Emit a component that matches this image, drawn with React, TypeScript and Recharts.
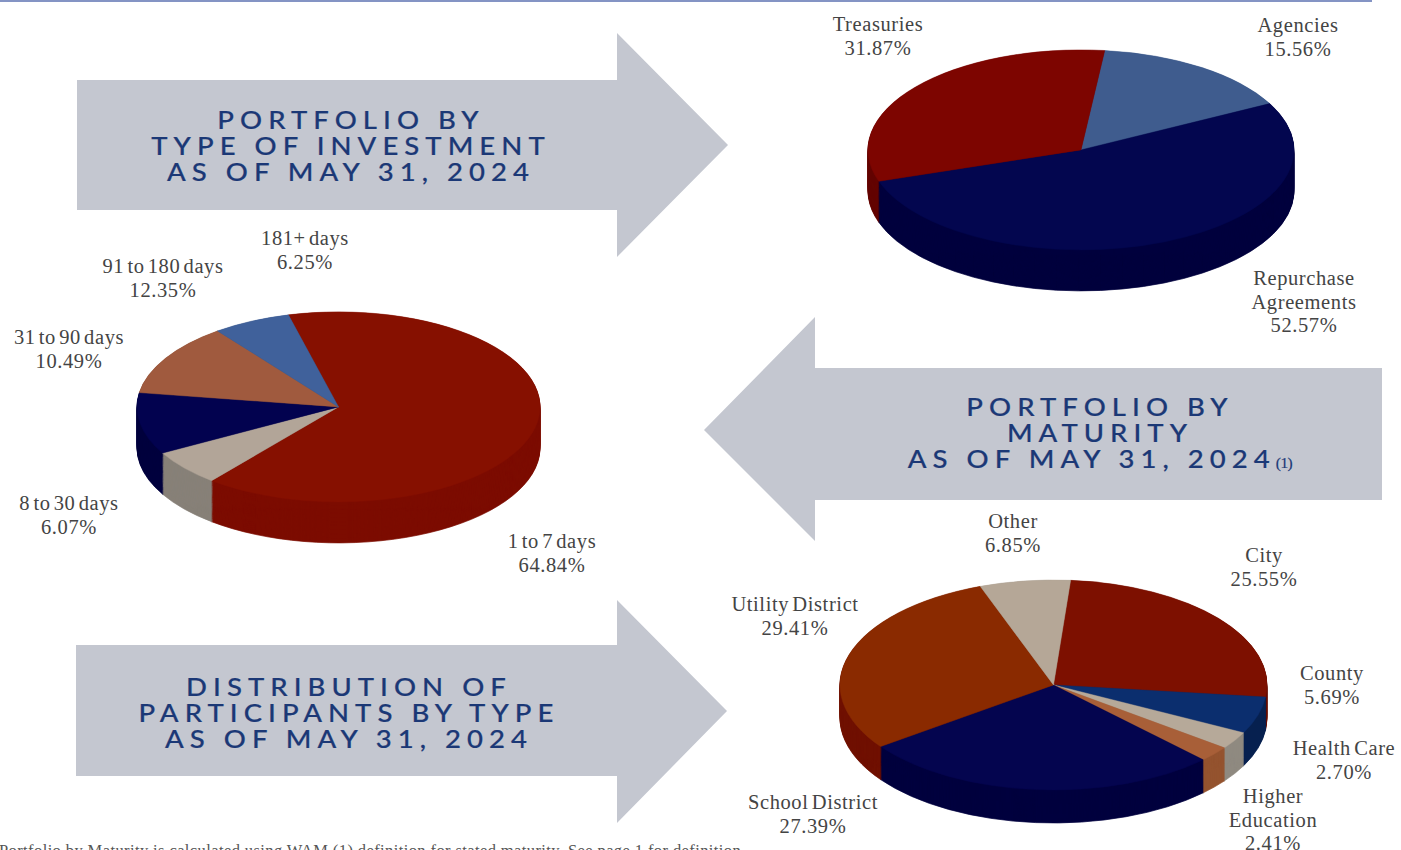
import { PieChart, Pie, Cell } from 'recharts';

// Portfolio by type of investment
const typeNames = ['Agencies', 'Repurchase Agreements', 'Treasuries'];
const typeValues = [15.56, 52.57, 31.87];
const typeTop = ['#3f5c8e', '#03064f', '#7d0500'];
const typeSide = ['#2c4270', '#00003e', '#640400'];

// Portfolio by maturity
const maturityNames = ['1 to 7 days', '8 to 30 days', '31 to 90 days', '91 to 180 days', '181+ days'];
const maturityValues = [64.84, 6.07, 10.49, 12.35, 6.25];
const maturityTop = ['#861000', '#b2a598', '#02024f', '#a05a3e', '#40619b'];
const maturitySide = ['#7c0c00', '#878078', '#00003e', '#7d4530', '#2c4270'];

// Distribution of participants by type
const participantNames = ['City', 'County', 'Health Care', 'Higher Education', 'School District', 'Utility District', 'Other'];
const participantValues = [25.55, 5.69, 2.7, 2.41, 27.39, 29.41, 6.85];
const participantTop = ['#7d1000', '#0b2e6e', '#b6a999', '#a85f38', '#04054f', '#8a2a00', '#b5a797'];
const participantSide = ['#640c00', '#072050', '#8f8a80', '#94532f', '#00003e', '#701000', '#8f8a80'];

const serif = "'Liberation Serif', serif";
const titleFont = "Lato, 'Open Sans', sans-serif";
const arrowFill = '#c4c7d0';
const titleColor = '#1b3876';

interface Pie3DProps {
  names: string[];
  values: number[];
  top: string[];
  side: string[];
  cx: number;
  cy: number;
  rx: number;
  ry: number;
  depth: number;
  start: number;
}

function Pie3D({ names, values, top, side, cx, cy, rx, ry, depth, start }: Pie3DProps) {
  const rows = names.map((name, i) => ({ name, value: values[i] }));
  const k = ry / rx;
  const pad = 4;
  const c = rx + pad;
  const wall = depth / k;
  const offsets: number[] = [];
  for (let o = wall; o > 0; o -= 2) offsets.push(o);

  return (
    <div
      style={{
        position: 'absolute',
        left: cx - c,
        top: cy - c * k,
        transformOrigin: '0 0',
        transform: `scaleY(${k})`,
      }}
    >
      <PieChart width={c * 2} height={c * 2 + wall} margin={{ top: 0, right: 0, bottom: 0, left: 0 }}>
        {offsets.map((o) => (
          <Pie
            key={o}
            data={rows}
            dataKey="value"
            nameKey="name"
            cx={c}
            cy={c + o}
            outerRadius={rx}
            startAngle={start}
            endAngle={start - 360}
            isAnimationActive={false}
            stroke="none"
          >
            {rows.map((r, i) => (
              <Cell key={r.name} fill={side[i]} stroke={side[i]} strokeWidth={1} />
            ))}
          </Pie>
        ))}
        <Pie
          data={rows}
          dataKey="value"
          nameKey="name"
          cx={c}
          cy={c}
          outerRadius={rx}
          startAngle={start}
          endAngle={start - 360}
          isAnimationActive={false}
        >
          {rows.map((r, i) => (
            <Cell key={r.name} fill={top[i]} stroke={top[i]} strokeWidth={0.6} />
          ))}
        </Pie>
      </PieChart>
    </div>
  );
}

function Label({ x, y, lines }: { x: number; y: number; lines: string[] }) {
  return (
    <div
      style={{
        position: 'absolute',
        left: x - 100,
        top: y - 11,
        width: 200,
        textAlign: 'center',
        fontFamily: serif,
        fontSize: 20.5,
        lineHeight: '23.5px',
        color: '#444',
        letterSpacing: 0.6,
        wordSpacing: -2.5,
      }}
    >
      {lines.map((l) => (
        <div key={l}>{l}</div>
      ))}
    </div>
  );
}

function Title({ x, y, lines, note }: { x: number; y: number; lines: string[]; note?: string }) {
  return (
    <div
      style={{
        position: 'absolute',
        left: x - 300,
        top: y,
        width: 600,
        textAlign: 'center',
        fontFamily: titleFont,
        fontSize: 25,
        fontWeight: 500,
        lineHeight: '26px',
        letterSpacing: 5.5,
        color: titleColor,
        WebkitTextStroke: '0.2px #1b3876',
        transform: 'scaleX(1.1)',
      }}
    >
      {lines.map((l, i) => (
        <div key={l}>
          {l}
          {note && i === lines.length - 1 ? (
            <span style={{ fontSize: 14, letterSpacing: -0.5, fontFamily: serif }}>{note}</span>
          ) : null}
        </div>
      ))}
    </div>
  );
}

function pct(v: number) {
  return `${v.toFixed(2)}%`;
}

export default function App() {
  return (
    <div
      style={{
        position: 'absolute',
        left: 0,
        top: 0,
        width: 1401,
        height: 850,
        overflow: 'hidden',
        background: '#fff',
      }}
    >
      <div style={{ position: 'absolute', left: 0, top: 0, width: 1372, height: 1.5, background: '#8494c4' }} />

      <svg width={1401} height={850} style={{ position: 'absolute', left: 0, top: 0 }}>
        <polygon points="77,80 617,80 617,33 728,145 617,257 617,210 77,210" fill={arrowFill} />
        <polygon points="1382,368 815,368 815,317 704,430 815,541 815,500 1382,500" fill={arrowFill} />
        <polygon points="76,645 617,645 617,600 727,711 617,823 617,776 76,776" fill={arrowFill} />
      </svg>

      <Title x={351} y={106} lines={['PORTFOLIO BY', 'TYPE OF INVESTMENT', 'AS OF MAY 31, 2024']} />
      <Title x={1100} y={393} lines={['PORTFOLIO BY', 'MATURITY', 'AS OF MAY 31, 2024']} note="(1)" />
      <Title x={349} y={673} lines={['DISTRIBUTION OF', 'PARTICIPANTS BY TYPE', 'AS OF MAY 31, 2024']} />

      <Pie3D names={typeNames} values={typeValues} top={typeTop} side={typeSide} cx={1081} cy={150} rx={213} ry={100} depth={41} start={83.6} />
      <Pie3D names={maturityNames} values={maturityValues} top={maturityTop} side={maturitySide} cx={338.5} cy={407} rx={201.5} ry={95} depth={41} start={104.4} />
      <Pie3D names={participantNames} values={participantValues} top={participantTop} side={participantSide} cx={1053.5} cy={685} rx={213.5} ry={105} depth={33} start={85.4} />

      <Label x={878} y={24} lines={['Treasuries', pct(typeValues[2])]} />
      <Label x={1298} y={25} lines={['Agencies', pct(typeValues[0])]} />
      <Label x={1304} y={278} lines={['Repurchase', 'Agreements', pct(typeValues[1])]} />

      <Label x={305} y={238} lines={[maturityNames[4], pct(maturityValues[4])]} />
      <Label x={163} y={266} lines={[maturityNames[3], pct(maturityValues[3])]} />
      <Label x={69} y={337} lines={[maturityNames[2], pct(maturityValues[2])]} />
      <Label x={69} y={503} lines={[maturityNames[1], pct(maturityValues[1])]} />
      <Label x={552} y={541} lines={[maturityNames[0], pct(maturityValues[0])]} />

      <Label x={1013} y={521} lines={[participantNames[6], pct(participantValues[6])]} />
      <Label x={1264} y={555} lines={[participantNames[0], pct(participantValues[0])]} />
      <Label x={795} y={604} lines={[participantNames[5], pct(participantValues[5])]} />
      <Label x={1332} y={673} lines={[participantNames[1], pct(participantValues[1])]} />
      <Label x={1344} y={748} lines={[participantNames[2], pct(participantValues[2])]} />
      <Label x={1273} y={796} lines={['Higher', 'Education', pct(participantValues[3])]} />
      <Label x={813} y={802} lines={[participantNames[4], pct(participantValues[4])]} />

      <div
        style={{
          position: 'absolute',
          left: -1,
          top: 841,
          fontFamily: serif,
          fontSize: 16.5,
          lineHeight: '20px',
          letterSpacing: 0.4,
          whiteSpace: 'nowrap',
          color: '#555',
        }}
      >
        Portfolio by Maturity is calculated using WAM (1) definition for stated maturity. See page 1 for definition.
      </div>
    </div>
  );
}
